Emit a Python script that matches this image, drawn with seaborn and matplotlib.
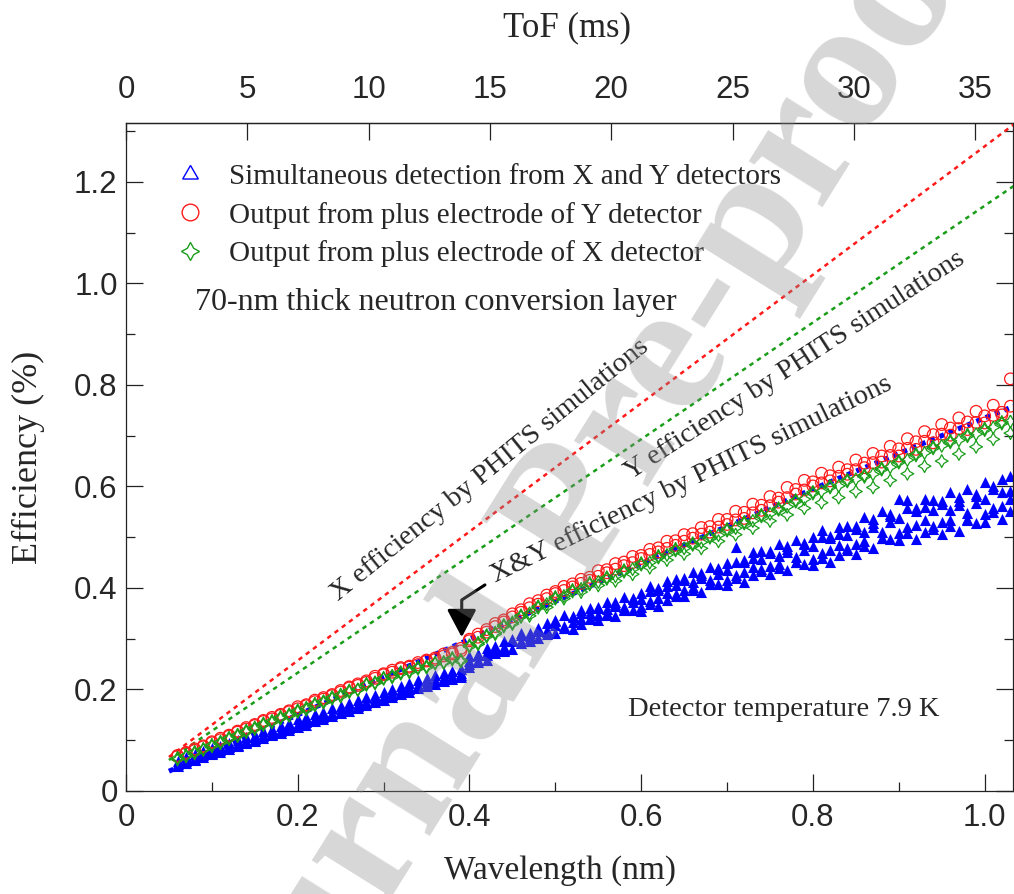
import matplotlib
matplotlib.use("Agg")
import matplotlib.pyplot as plt
from matplotlib.lines import Line2D
from matplotlib.ticker import MultipleLocator, FuncFormatter
import seaborn as sns

wavelength = [
    0.06, 0.07, 0.08, 0.09, 0.10, 0.11, 0.12, 0.13, 0.14, 0.15,
    0.16, 0.17, 0.18, 0.19, 0.20, 0.21, 0.22, 0.23, 0.24, 0.25,
    0.26, 0.27, 0.28, 0.29, 0.30, 0.31, 0.32, 0.33, 0.34, 0.35,
    0.36, 0.37, 0.38, 0.39, 0.40, 0.41, 0.42, 0.43, 0.44, 0.45,
    0.46, 0.47, 0.48, 0.49, 0.50, 0.51, 0.52, 0.53, 0.54, 0.55,
    0.56, 0.57, 0.58, 0.59, 0.60, 0.61, 0.62, 0.63, 0.64, 0.65,
    0.66, 0.67, 0.68, 0.69, 0.70, 0.71, 0.72, 0.73, 0.74, 0.75,
    0.76, 0.77, 0.78, 0.79, 0.80, 0.81, 0.82, 0.83, 0.84, 0.85,
    0.86, 0.87, 0.88, 0.89, 0.90, 0.91, 0.92, 0.93, 0.94, 0.95,
    0.96, 0.97, 0.98, 0.99, 1.00, 1.01, 1.02, 1.03,
]

# simultaneous X&Y detection: four readings per bin (spread of the band)
xy_low = [
    .050, .056, .061, .067, .072, .077, .083, .088, .094, .098,
    .104, .110, .115, .120, .126, .131, .137, .142, .147, .153,
    .158, .164, .169, .175, .180, .186, .191, .196, .202, .207,
    .211, .216, .220, .224, .244, .254, .258, .271, .275, .280,
    .292, .296, .301, .313, .311, .321, .320, .329, .340, .337,
    .346, .345, .358, .357, .355, .368, .365, .376, .389, .384,
    .395, .393, .408, .407, .405, .419, .412, .425, .437, .428,
    .440, .435, .452, .448, .445, .460, .451, .465, .479, .467,
    .483, .478, .499, .496, .494, .509, .496, .510, .523, .507,
    .522, .513, .535, .528, .530, .549, .536, .552,
]
xy_lowmid = [
    .053, .059, .064, .070, .075, .080, .086, .091, .097, .102,
    .108, .113, .119, .124, .130, .135, .141, .146, .152, .157,
    .163, .168, .174, .179, .185, .190, .196, .201, .207, .212,
    .216, .221, .225, .229, .250, .268, .268, .285, .278, .295,
    .308, .301, .318, .310, .334, .322, .333, .351, .338, .363,
    .351, .365, .356, .378, .363, .394, .381, .404, .385, .419,
    .401, .420, .407, .437, .415, .451, .432, .459, .433, .473,
    .448, .470, .451, .486, .457, .500, .475, .507, .474, .522,
    .493, .521, .498, .542, .508, .557, .524, .559, .517, .571,
    .534, .563, .534, .582, .545, .595, .561, .592,
]
xy_mid = [
    .055, .062, .066, .073, .077, .084, .088, .095, .099, .106,
    .110, .117, .121, .128, .132, .139, .143, .150, .154, .161,
    .165, .172, .176, .183, .187, .194, .198, .205, .209, .216,
    .218, .225, .227, .233, .257, .259, .274, .277, .283, .297,
    .295, .306, .315, .317, .328, .325, .342, .339, .351, .346,
    .358, .368, .363, .372, .379, .374, .395, .390, .405, .396,
    .412, .425, .415, .428, .436, .426, .451, .441, .458, .443,
    .462, .476, .461, .475, .482, .469, .498, .485, .505, .486,
    .510, .528, .510, .529, .538, .520, .551, .533, .554, .529,
    .554, .571, .548, .567, .575, .558, .589, .576,
]
xy_high = [
    .060, .066, .073, .078, .084, .089, .095, .100, .107, .111,
    .118, .122, .129, .134, .141, .145, .151, .156, .163, .167,
    .173, .179, .185, .190, .196, .201, .207, .212, .218, .223,
    .228, .232, .237, .241, .265, .269, .282, .282, .296, .300,
    .311, .311, .321, .330, .337, .346, .345, .356, .360, .360,
    .373, .372, .382, .380, .391, .403, .399, .413, .417, .416,
    .432, .430, .441, .439, .450, .480, .455, .471, .472, .469,
    .487, .482, .494, .488, .500, .514, .503, .521, .522, .517,
    .540, .535, .551, .545, .575, .573, .558, .575, .574, .565,
    .589, .580, .595, .586, .608, .600, .615, .621,
]

# plus electrode of Y detector (two readings per bin)
y_det_a = [
    .068, .076, .080, .089, .095, .101, .110, .116, .122, .131,
    .137, .142, .151, .156, .162, .170, .176, .181, .190, .195,
    .203, .208, .217, .222, .231, .234, .241, .246, .249, .256,
    .262, .266, .273, .276, .296, .303, .318, .324, .337, .343,
    .357, .361, .375, .379, .393, .395, .408, .409, .421, .423,
    .436, .437, .451, .450, .464, .466, .479, .478, .493, .492,
    .507, .506, .521, .520, .535, .534, .549, .548, .563, .562,
    .577, .578, .594, .593, .609, .607, .621, .620, .633, .633,
    .646, .647, .660, .661, .674, .675, .688, .689, .702, .703,
    .715, .714, .727, .726, .739, .740, .746, .758,
]
y_det_b = [
    .070, .074, .083, .087, .097, .104, .108, .118, .125, .129,
    .139, .145, .149, .158, .166, .168, .179, .184, .188, .198,
    .205, .211, .214, .226, .229, .238, .243, .244, .253, .258,
    .259, .270, .270, .281, .299, .309, .313, .330, .333, .349,
    .352, .369, .368, .386, .389, .403, .402, .417, .415, .434,
    .430, .448, .444, .462, .458, .476, .471, .492, .484, .505,
    .498, .519, .510, .535, .525, .551, .537, .565, .553, .580,
    .569, .598, .585, .612, .601, .626, .611, .638, .624, .652,
    .637, .665, .648, .679, .660, .694, .673, .708, .686, .722,
    .701, .735, .712, .748, .725, .760, .741, .812,
]

# plus electrode of X detector (two readings per bin)
x_det_a = [
    .062, .070, .074, .083, .088, .097, .102, .111, .116, .125,
    .130, .138, .143, .151, .156, .164, .169, .177, .182, .190,
    .195, .200, .209, .214, .221, .227, .231, .237, .241, .246,
    .251, .254, .259, .258, .284, .292, .304, .312, .324, .332,
    .343, .350, .361, .368, .379, .384, .393, .398, .407, .412,
    .418, .423, .432, .437, .446, .450, .460, .465, .474, .478,
    .485, .490, .499, .504, .513, .518, .527, .532, .541, .546,
    .554, .560, .570, .575, .586, .590, .598, .601, .610, .614,
    .619, .624, .633, .638, .647, .652, .661, .666, .675, .680,
    .687, .691, .699, .703, .711, .716, .724, .728,
]
x_det_b = [
    .065, .068, .077, .081, .091, .094, .105, .108, .119, .122,
    .133, .135, .146, .148, .159, .160, .172, .174, .185, .186,
    .198, .199, .211, .212, .223, .224, .234, .234, .244, .243,
    .253, .252, .262, .255, .287, .289, .307, .309, .327, .329,
    .346, .345, .364, .362, .382, .379, .396, .392, .410, .405,
    .421, .414, .435, .427, .449, .440, .463, .455, .477, .467,
    .488, .478, .502, .492, .516, .505, .530, .518, .544, .532,
    .557, .544, .573, .557, .589, .568, .601, .578, .613, .590,
    .622, .598, .636, .612, .650, .625, .664, .640, .678, .650,
    .690, .664, .702, .678, .714, .693, .727, .705,
]

# PHITS simulations
sim_wavelength = [0.05, 0.20, 0.40, 0.60, 0.80, 1.00, 1.04]
sim_x = [0.067, 0.257, 0.511, 0.764, 1.017, 1.270, 1.321]
sim_y = [0.061, 0.233, 0.463, 0.693, 0.923, 1.153, 1.199]
sim_xy = [0.039, 0.150, 0.299, 0.448, 0.595, 0.735, 0.762]

tof_ticks = [0, 5, 10, 15, 20, 25, 30, 35]
MS_PER_NM = 35.39

BLUE = "#0000ff"
RED = "#ff1a1a"
GREEN = "#1a9e1a"


def fmt(v, pos):
    return "0" if abs(v) < 1e-9 else f"{v:.1f}"


sns.set_style("ticks")
plt.rcParams["font.family"] = ["Liberation Serif", "DejaVu Serif"]

fig = plt.figure(figsize=(10.14, 8.94), dpi=100)
ax = fig.add_axes([126 / 1014, 1 - 791 / 894, 887 / 1014, 668 / 894])

# ---- measured points ----
for vals in (xy_low, xy_lowmid, xy_high, xy_mid):
    sns.scatterplot(x=wavelength, y=vals, ax=ax, marker="^", color=BLUE,
                    s=64, linewidth=0, legend=False, zorder=2)

sns.lineplot(x=sim_wavelength, y=sim_xy, ax=ax, color=BLUE, lw=3.6,
             linestyle=(0, (1, 1)), dash_capstyle="butt", zorder=3)

for vals in (y_det_a, y_det_b):
    sns.scatterplot(x=wavelength, y=vals, ax=ax, marker="o", facecolor="none",
                    edgecolor=RED, s=70, linewidth=0.9, legend=False, zorder=4)
for vals in (x_det_a, x_det_b):
    sns.scatterplot(x=wavelength, y=vals, ax=ax, marker=(4, 1, 0), facecolor="none",
                    edgecolor=GREEN, s=85, linewidth=0.9, legend=False, zorder=5)

sns.lineplot(x=sim_wavelength, y=sim_x, ax=ax, color=RED, lw=1.8,
             linestyle=(0, (1.8, 1.8)), dash_capstyle="butt", zorder=3)
sns.lineplot(x=sim_wavelength, y=sim_y, ax=ax, color=GREEN, lw=1.8,
             linestyle=(0, (1.8, 1.8)), dash_capstyle="butt", zorder=3)

# ---- axes ----
ax.set_xlim(0, 1.033)
ax.set_ylim(0, 1.316)
ax.xaxis.set_major_locator(MultipleLocator(0.2))
ax.xaxis.set_minor_locator(MultipleLocator(0.1))
ax.yaxis.set_major_locator(MultipleLocator(0.2))
ax.yaxis.set_minor_locator(MultipleLocator(0.1))
ax.xaxis.set_major_formatter(FuncFormatter(fmt))
ax.yaxis.set_major_formatter(FuncFormatter(fmt))
ax.tick_params(which="both", direction="in", top=False, right=True,
               width=0.9, color="#222222")
ax.tick_params(which="major", length=12, labelsize=22.5,
               labelfontfamily="Liberation Sans")
ax.tick_params(which="minor", length=6.5)
ax.tick_params(axis="x", which="major", pad=9)
ax.tick_params(axis="y", which="major", pad=6)
for sp in ax.spines.values():
    sp.set_linewidth(0.9)
    sp.set_color("#222222")

ax.set_xlabel("Wavelength (nm)", fontsize=24)
ax.set_ylabel("Efficiency (%)", fontsize=26)
ax.xaxis.set_label_coords(0.489, -0.096)
ax.yaxis.set_label_coords(-0.091, 0.5)

secax = ax.secondary_xaxis("top", functions=(lambda x: x * MS_PER_NM,
                                              lambda t: t / MS_PER_NM))
secax.set_xticks(tof_ticks)
secax.set_xticklabels([str(t) for t in tof_ticks])
secax.tick_params(direction="in", length=12, width=0.9, color="#222222",
                  labelsize=22.5, pad=13, labelfontfamily="Liberation Sans")
secax.spines["top"].set_linewidth(0.9)
secax.set_xlabel("ToF (ms)", fontsize=25)
secax.xaxis.set_label_coords(0.497, 1 + 95 / 668, transform=ax.transAxes)
secax.xaxis.label.set_verticalalignment("center")

# ---- legend ----
handles = [
    Line2D([], [], ls="none", marker=(3, 1, 0), ms=13, mfc="none", mec=BLUE, mew=1.0),
    Line2D([], [], ls="none", marker="o", ms=12, mfc="none", mec=RED, mew=1.0),
    Line2D([], [], ls="none", marker=(4, 1, 0), ms=13, mfc="none", mec=GREEN, mew=1.0),
]
labels = [
    "Simultaneous detection from X and Y detectors",
    "Output from plus electrode of Y detector",
    "Output from plus electrode of X detector",
]
ax.legend(handles, labels, loc="upper left", bbox_to_anchor=(0.056, 0.939),
          frameon=False, fontsize=21, handlelength=1.0, handletextpad=0.83,
          borderpad=0, borderaxespad=0, labelspacing=0.39)

# ---- annotations ----
ax.text(0.080, 0.962, "70-nm thick neutron conversion layer", fontsize=23,
        ha="left", va="center")
ax.text(0.585, 0.160, "Detector temperature 7.9 K", fontsize=20.5,
        ha="left", va="center")
ax.text(0.424, 0.633, "X efficiency by PHITS simulations", fontsize=20.5,
        rotation=39, rotation_mode="anchor", ha="center", va="center")
ax.text(0.779, 0.839, "Y efficiency by PHITS simulations", fontsize=20.5,
        rotation=33, rotation_mode="anchor", ha="center", va="center")
ax.text(0.659, 0.613, "X&Y efficiency by PHITS simulations", fontsize=20.5,
        rotation=26, rotation_mode="anchor", ha="center", va="center")
ax.annotate("", xy=(0.391, 0.303), xytext=(0.418, 0.406),
            arrowprops=dict(arrowstyle="-|>,head_width=0.45,head_length=0.85",
                            connectionstyle="angle,angleA=213,angleB=90,rad=0",
                            color="black", lw=2.2, mutation_scale=20,
                            shrinkA=0, shrinkB=0), zorder=6)

# watermark of the source page
fig.text(0.565, 0.418, "Journal Pre-proof", fontsize=135, fontweight="bold",
         color="#8c8c8c", alpha=0.35, rotation=58, rotation_mode="anchor",
         ha="center", va="center", zorder=10)

fig.savefig("out.png", dpi=100)
